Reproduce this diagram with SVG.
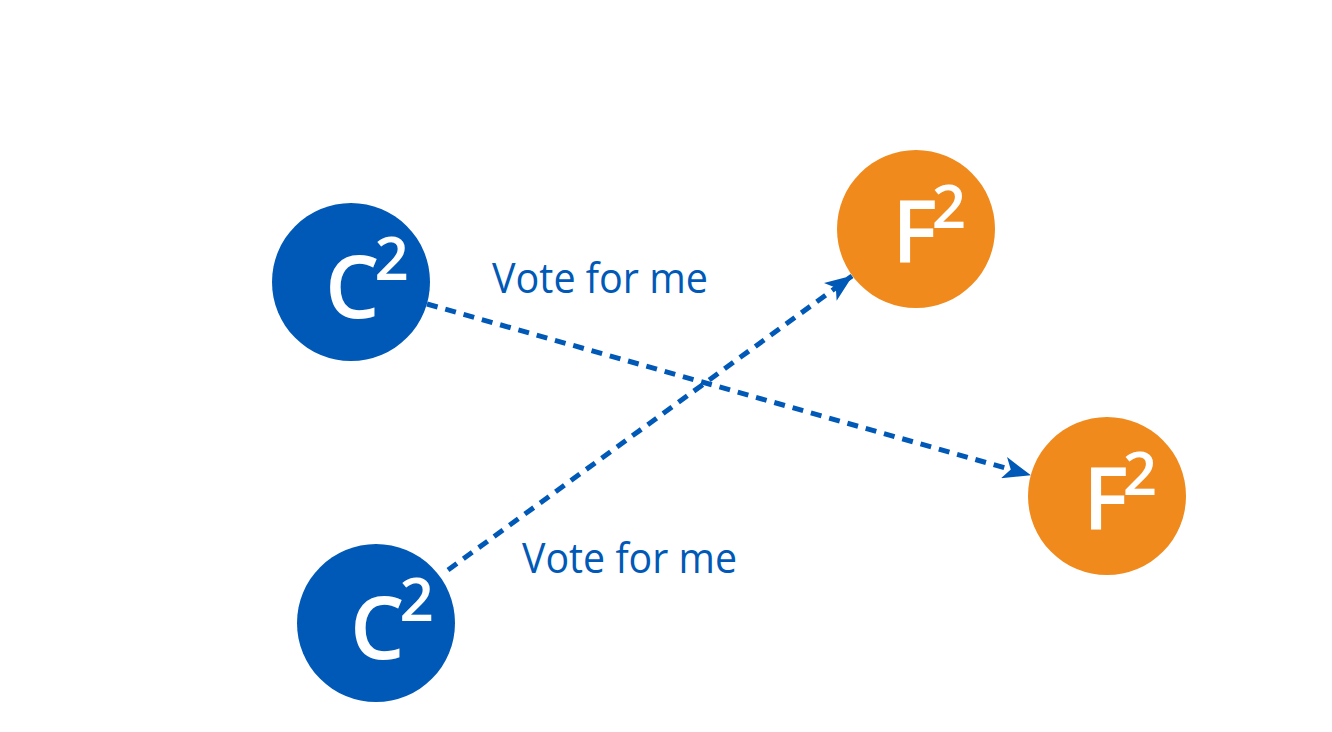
<svg xmlns="http://www.w3.org/2000/svg" width="1332" height="732" viewBox="0 0 1332 732">
<style>
.c{fill:#0059B7}
.f{fill:#F08A1C}
.big{font-family:"Open Sans","Noto Sans",sans-serif;fill:#fff;font-size:86px;font-weight:600}
.sup{font-size:60px}
.lbl{font-family:"Open Sans","Noto Sans",sans-serif;fill:#0059B7;font-size:42px}
.conn{stroke:#0059B7;stroke-width:5;stroke-dasharray:11 8;fill:none}
</style>
<defs>
<marker id="ah" markerUnits="userSpaceOnUse" markerWidth="28" markerHeight="22" viewBox="0 0 28 22" refX="27" refY="11" orient="auto">
<path d="M0,0 L28,11 L0,22 L7,11 Z" fill="#0059B7"/>
</marker>
</defs>
<rect width="1332" height="732" fill="#fff"/>
<g id="connectors">
<line class="conn" x1="427" y1="304" x2="1030" y2="475" marker-end="url(#ah)"/>
<line class="conn" x1="448" y1="570" x2="852" y2="276" marker-end="url(#ah)"/>
</g>
<g id="c1">
<circle class="c" cx="351" cy="282" r="79"/>
<text class="big" x="325" y="318">C<tspan class="sup" dx="-5" dy="-38">2</tspan></text>
</g>
<g id="c2">
<circle class="c" cx="376" cy="623" r="79"/>
<text class="big" x="350" y="659">C<tspan class="sup" dx="-5" dy="-38">2</tspan></text>
</g>
<g id="f1">
<circle class="f" cx="916" cy="229" r="79"/>
<text class="big" x="892" y="263">F<tspan class="sup" dx="-6" dy="-35">2</tspan></text>
</g>
<g id="f2">
<circle class="f" cx="1107" cy="496" r="79"/>
<text class="big" x="1083" y="530">F<tspan class="sup" dx="-6" dy="-35">2</tspan></text>
</g>
<g id="label1">
<text class="lbl" x="492" y="293" textLength="216" lengthAdjust="spacingAndGlyphs">Vote for me</text>
</g>
<g id="label2">
<text class="lbl" x="522" y="573" textLength="215" lengthAdjust="spacingAndGlyphs">Vote for me</text>
</g>
</svg>
